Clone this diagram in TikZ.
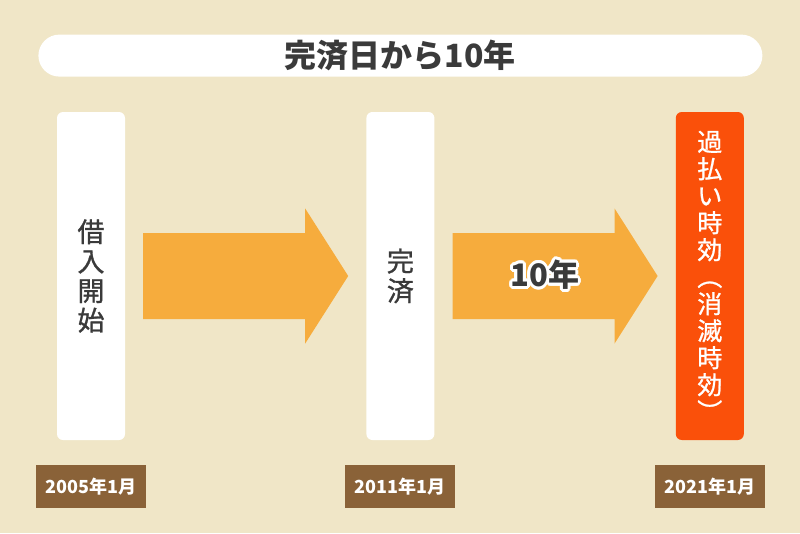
\documentclass[tikz,border=0pt]{standalone}
\usepackage{fontspec}
\setmainfont{Noto Sans CJK JP}
\newfontfamily\medfont{Noto Sans CJK JP}[FakeBold=1]
\usepackage{contour}
\usepackage{tikz}
\usetikzlibrary{positioning}
\usetikzlibrary{calc}
\definecolor{bgcream}{HTML}{F0E6C7}
\definecolor{arroworange}{HTML}{F6AC3D}
\definecolor{limitred}{HTML}{FA500A}
\definecolor{datebrown}{HTML}{8A6238}
\definecolor{inkgray}{HTML}{3A3A3A}
\contourlength{2.8pt}
\tikzset{node distance=241pt, % Gap between two columns
         every node/.style={inner sep=0pt, text=inkgray},
         banner/.style={ % Title bar at the top
           fill=white, rounded corners=21pt,
           minimum width=724pt, minimum height=42pt,
           font=\bfseries\fontsize{32}{32}\selectfont},
         column/.style={ % Tall boxes, one char per line
           fill=white, rounded corners=6pt,
           minimum width=68pt, minimum height=328pt,
           align=center, font=\medfont\fontsize{27}{29.5}\selectfont},
         limit/.style={column, fill=limitred, text=white,
           font=\medfont\fontsize{25}{27}\selectfont},
         datebox/.style={fill=datebrown, text=white,
           minimum width=110pt, minimum height=43pt,
           font=\bfseries\fontsize{18}{18}\selectfont},
         fatarrow/.style={ % Block arrow between two coordinates
           fill=arroworange,
           to path={($(\tikztostart)+(0,-43)$) -- ($(\tikztotarget)+(-43,-43)$)
             -- ($(\tikztotarget)+(-43,-67.5)$) -- (\tikztotarget)
             -- ($(\tikztotarget)+(-43,67.5)$) -- ($(\tikztotarget)+(-43,43)$)
             -- ($(\tikztostart)+(0,43)$) -- cycle}}}

\begin{document}
\begin{tikzpicture}[x=1pt, y=-1pt]
      \fill[bgcream] (0,0) rectangle (800,533);

      \node[column] (borrow) at (91,276) {借\\入\\開\\始};
      \node[column, right=of borrow] (repaid) {完\\済};
      \node[limit, right=of repaid] (limit) {過\\払\\い\\時\\効\\︵\\消\\滅\\時\\効\\︶};

      \node[banner, above=35pt of repaid] (title) {完済日から10年};

      \node[datebox, below=25pt of borrow] (d2005) {2005年1月};
      \node[datebox, below=25pt of repaid] (d2011) {2011年1月};
      \node[datebox, below=25pt of limit] (d2021) {2021年1月};

      \path (borrow.east) ++(18,0) coordinate (a1);
      \path (repaid.west) ++(-18,0) coordinate (a2);
      \path (repaid.east) ++(18,0) coordinate (a3);
      \path (limit.west) ++(-18,0) coordinate (a4);

      \path[fatarrow] (a1) to (a2);
      \path[fatarrow] (a3) to (a4);
      \node[font=\bfseries\fontsize{31}{31}\selectfont] (tenyears)
        at ($(a3)!0.45!(a4)$) {\contour{white}{10年}};

\end{tikzpicture}
\end{document}
